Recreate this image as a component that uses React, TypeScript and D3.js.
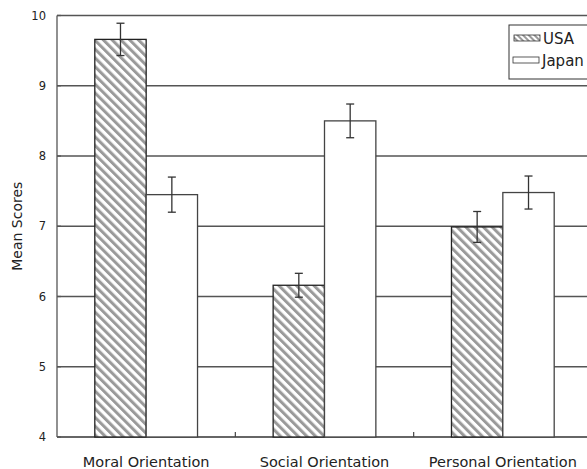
import React from "react";
import * as d3 from "d3";

const categories = ["Moral Orientation", "Social Orientation", "Personal Orientation"];
const seriesNames = ["USA", "Japan"];
const usaMeans = [9.66, 6.16, 6.99];
const usaErrors = [0.23, 0.17, 0.22];
const japanMeans = [7.45, 8.5, 7.48];
const japanErrors = [0.25, 0.24, 0.235];
const yTicks = [4, 5, 6, 7, 8, 9, 10];

const W = 587;
const H = 469;
const margin = { left: 57, right: -5, top: 15.5, bottom: 32 };
const FONT = "Tahoma, 'DejaVu Sans', sans-serif";

export default function App() {
  const x0 = margin.left;
  const x1 = W - margin.right;
  const yTop = margin.top;
  const yBot = H - margin.bottom;

  const x = d3.scaleBand<string>().domain(categories).range([x0, x1]).padding(0);
  const y = d3.scaleLinear().domain([4, 10]).range([yBot, yTop]);
  const bw = x.bandwidth();
  const inner = d3
    .scaleBand<string>()
    .domain(seriesNames)
    .range([bw * 0.212, bw * 0.788])
    .padding(0);

  const series = [
    { name: "USA", means: usaMeans, errs: usaErrors, fill: "url(#hatch)", stroke: "#222" },
    { name: "Japan", means: japanMeans, errs: japanErrors, fill: "#fff", stroke: "#444" },
  ];

  return (
    <svg width={W} height={H} style={{ position: "absolute", left: 0, top: 0, background: "#fff" }}>
      <defs>
        <pattern
          id="hatch"
          patternUnits="userSpaceOnUse"
          width={6.2}
          height={6.2}
          patternTransform="rotate(-45)"
        >
          <rect x={0} y={0} width={6.2} height={6.2} fill="#fff" />
          <rect x={0} y={0} width={3} height={6.2} fill="#9a9a9a" />
        </pattern>
        <pattern
          id="hatchSmall"
          patternUnits="userSpaceOnUse"
          width={4}
          height={4}
          patternTransform="rotate(-45)"
        >
          <rect x={0} y={0} width={4} height={4} fill="#fff" />
          <rect x={0} y={0} width={2} height={4} fill="#9a9a9a" />
        </pattern>
      </defs>

      {/* horizontal gridlines */}
      {yTicks.map((t) => (
        <line
          key={"g" + t}
          x1={x0}
          x2={x1}
          y1={y(t)}
          y2={y(t)}
          stroke={t === 4 ? "#333" : "#555"}
          strokeWidth={1.3}
        />
      ))}

      {/* y axis */}
      <line x1={x0} x2={x0} y1={yTop} y2={yBot} stroke="#555" strokeWidth={1.3} />
      {yTicks.map((t) => (
        <g key={"t" + t}>
          <line x1={x0} x2={x0 + 4} y1={y(t)} y2={y(t)} stroke="#555" strokeWidth={1.3} />
          <text
            x={x0 - 11}
            y={y(t)}
            dy="0.35em"
            textAnchor="end"
            fontFamily={FONT}
            fontSize={11.5}
            fill="#222"
          >
            {t}
          </text>
        </g>
      ))}

      {/* category boundary ticks */}
      {categories.slice(1).map((c) => (
        <line
          key={"ct" + c}
          x1={x(c)!}
          x2={x(c)!}
          y1={yBot}
          y2={yBot - 5}
          stroke="#444"
          strokeWidth={1.2}
        />
      ))}

      {/* bars */}
      {categories.map((c, i) =>
        series.map((s) => {
          const bx = x(c)! + inner(s.name)!;
          const by = y(s.means[i]);
          return (
            <rect
              key={c + s.name}
              x={bx}
              y={by}
              width={inner.bandwidth()}
              height={yBot - by}
              fill={s.fill}
              stroke={s.stroke}
              strokeWidth={1.3}
            />
          );
        })
      )}

      {/* error bars */}
      {categories.map((c, i) =>
        series.map((s) => {
          const cx = x(c)! + inner(s.name)! + inner.bandwidth() / 2;
          const hi = y(s.means[i] + s.errs[i]);
          const lo = y(s.means[i] - s.errs[i]);
          return (
            <g key={"e" + c + s.name} stroke="#333" strokeWidth={1.3}>
              <line x1={cx} x2={cx} y1={hi} y2={lo} />
              <line x1={cx - 4} x2={cx + 4} y1={hi} y2={hi} />
              <line x1={cx - 4} x2={cx + 4} y1={lo} y2={lo} />
            </g>
          );
        })
      )}

      {/* category labels */}
      {categories.map((c) => (
        <text
          key={"l" + c}
          x={x(c)! + bw / 2}
          y={yBot + 30}
          textAnchor="middle"
          fontFamily={FONT}
          fontSize={14.5}
          fill="#222"
        >
          {c}
        </text>
      ))}

      {/* y axis title */}
      <text
        transform={`translate(17,${(yTop + yBot) / 2}) rotate(-90)`}
        textAnchor="middle"
        dy="0.35em"
        fontFamily={FONT}
        fontSize={14}
        fill="#222"
      >
        Mean Scores
      </text>

      {/* legend */}
      <g>
        <rect x={509} y={25} width={100} height={54} fill="#fff" stroke="#333" strokeWidth={1} />
        <rect x={514} y={35} width={26} height={6} fill="url(#hatchSmall)" stroke="#333" strokeWidth={0.8} />
        <text x={543} y={38.5} dy="0.35em" fontFamily={FONT} fontSize={15} fill="#222">
          {seriesNames[0]}
        </text>
        <rect x={513} y={57} width={26} height={6} fill="#fff" stroke="#333" strokeWidth={0.8} />
        <text x={542} y={60.5} dy="0.35em" fontFamily={FONT} fontSize={15} fill="#222">
          {seriesNames[1]}
        </text>
      </g>
    </svg>
  );
}
